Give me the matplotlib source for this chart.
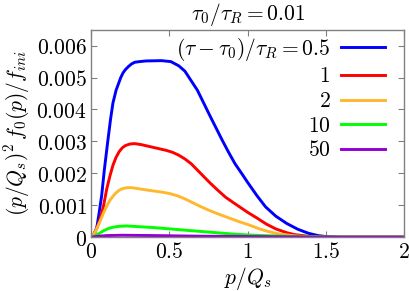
import numpy as np
import matplotlib
matplotlib.use('Agg')
import matplotlib.pyplot as plt
from matplotlib.ticker import FuncFormatter

plt.rcParams['mathtext.fontset'] = 'cm'
plt.rcParams['font.family'] = 'serif'
plt.rcParams['font.serif'] = ['DejaVu Serif']

# curves: (tau - tau0)/tau_R = 0.5, 1, 2, 10, 50
p_blue = [0, 0.02, 0.037, 0.05, 0.068, 0.085, 0.107, 0.125, 0.14, 0.16, 0.175, 0.19, 0.205, 0.22,
          0.24, 0.26, 0.28, 0.31, 0.35, 0.45, 0.51, 0.56, 0.6, 0.64, 0.68, 0.72, 0.76, 0.8, 0.84,
          0.88, 0.92, 0.966, 1.0, 1.06, 1.115, 1.18, 1.25, 1.32, 1.39, 1.45, 1.5, 1.6, 2.0]
y_blue = [0, 0.0001, 0.0003, 0.0007, 0.0013, 0.0021, 0.0030, 0.0037, 0.0042, 0.0046, 0.0048, 0.0050,
          0.00515, 0.00525, 0.00535, 0.00543, 0.00548, 0.0055, 0.00552, 0.00553, 0.0055, 0.00537,
          0.0052, 0.0049, 0.0046, 0.0042, 0.0038, 0.00341, 0.00302, 0.00265, 0.0023, 0.00197,
          0.00172, 0.0013, 0.00095, 0.00066, 0.00043, 0.00025, 0.00012, 0.00005, 0.00002, 0.0, 0.0]

p_red = [0, 0.02, 0.04, 0.06, 0.08, 0.1, 0.12, 0.14, 0.16, 0.18, 0.2, 0.22, 0.25, 0.28, 0.32, 0.4,
         0.48, 0.52, 0.56, 0.6, 0.64, 0.68, 0.72, 0.76, 0.81, 0.86, 0.91, 0.955, 1.0, 1.06, 1.12,
         1.18, 1.25, 1.3, 1.4, 1.5, 2.0]
y_red = [0, 0.0001, 0.00032, 0.0006, 0.00098, 0.0015, 0.0019, 0.00225, 0.0025, 0.00268, 0.0028,
         0.00287, 0.00292, 0.00293, 0.0029, 0.00281, 0.00272, 0.00266, 0.00257, 0.00245, 0.0023,
         0.0021, 0.0019, 0.0017, 0.00147, 0.00125, 0.00108, 0.00093, 0.00078, 0.0006, 0.00041,
         0.00026, 0.00014, 0.00008, 0.00002, 0.0, 0.0]

p_orange = [0, 0.02, 0.04, 0.06, 0.08, 0.1, 0.12, 0.14, 0.16, 0.18, 0.2, 0.23, 0.26, 0.3, 0.38, 0.44,
            0.5, 0.55, 0.6, 0.65, 0.7, 0.75, 0.8, 0.86, 0.91, 0.955, 1.0, 1.07, 1.13, 1.2, 1.3, 1.4,
            1.5, 2.0]
y_orange = [0, 0.0001, 0.0003, 0.00052, 0.00076, 0.00097, 0.00115, 0.00128, 0.00139, 0.00147,
            0.00152, 0.00155, 0.00155, 0.00152, 0.00146, 0.00142, 0.00137, 0.0013, 0.0012, 0.00108,
            0.00096, 0.00085, 0.00075, 0.00064, 0.00055, 0.00047, 0.0004, 0.00027, 0.00018, 0.0001,
            0.00004, 0.00001, 0.0, 0.0]

p_green = [0, 0.02, 0.05, 0.08, 0.11, 0.14, 0.18, 0.23, 0.3, 0.4, 0.5, 0.6, 0.7, 0.8, 0.9, 1.0, 1.1,
           1.3, 1.5, 2.0]
y_green = [0, 0.00003, 0.00011, 0.0002, 0.00027, 0.00031, 0.00034, 0.00035, 0.00033, 0.0003,
           0.00026, 0.00022, 0.00018, 0.00014, 0.0001, 0.00007, 0.00005, 0.00002, 0.0, 0.0]

p_purple = [0, 0.05, 0.1, 0.2, 0.4, 0.7, 1.0, 1.5, 2.0]
y_purple = [0, 0.00003, 0.00005, 0.00006, 0.00005, 0.00003, 0.00002, 0.0, 0.0]

labels = [r'$(\tau-\tau_0)/\tau_R=0.5$', r'$1$', r'$2$', r'$10$', r'$50$']
colors = ['#0000ff', '#ff0000', '#ffb82e', '#00ff00', '#9400d3']

fig = plt.figure(figsize=(4.09, 2.91), dpi=100)
ax = fig.add_axes([0.2225, 0.185, 0.7655, 0.713])

series = [(p_blue, y_blue), (p_red, y_red), (p_orange, y_orange), (p_green, y_green), (p_purple, y_purple)]
for (px, py), lab, c in zip(series, labels, colors):
    ax.plot(px, py, color=c, lw=2.1, label=lab, solid_joinstyle='round')

ax.set_xlim(0, 2)
ax.set_ylim(0, 0.0065)
ax.set_xticks([0, 0.5, 1, 1.5, 2])
ax.set_yticks([0, 0.001, 0.002, 0.003, 0.004, 0.005, 0.006])
ax.xaxis.set_major_formatter(FuncFormatter(lambda v, pos: '$%g$' % v))
ax.yaxis.set_major_formatter(FuncFormatter(lambda v, pos: '$%g$' % v if v != 0 else '$0$'))
ax.tick_params(direction='in', length=4, width=0.8, color='#808080', labelsize=15.5,
               top=True, right=True, pad=3)
for s in ax.spines.values():
    s.set_color('#808080')
    s.set_linewidth(1.0)

ax.set_xlabel(r'$p/Q_s$', fontsize=15.5)
ax.xaxis.set_label_coords(0.5, -0.133)
ax.set_ylabel(r'$(p/Q_s)^2\,f_0(p)/f_{ini}$', fontsize=15.5, labelpad=3)
ax.set_title(r'$\tau_0/\tau_R=0.01$', fontsize=15.5, pad=7)

ax.legend(loc='upper right', bbox_to_anchor=(0.94, 0.97), frameon=False, markerfirst=False,
          fontsize=15.5, handlelength=2.05, handletextpad=0.5, labelspacing=0.12,
          borderpad=0, borderaxespad=0)

fig.savefig('out.png', dpi=100)
